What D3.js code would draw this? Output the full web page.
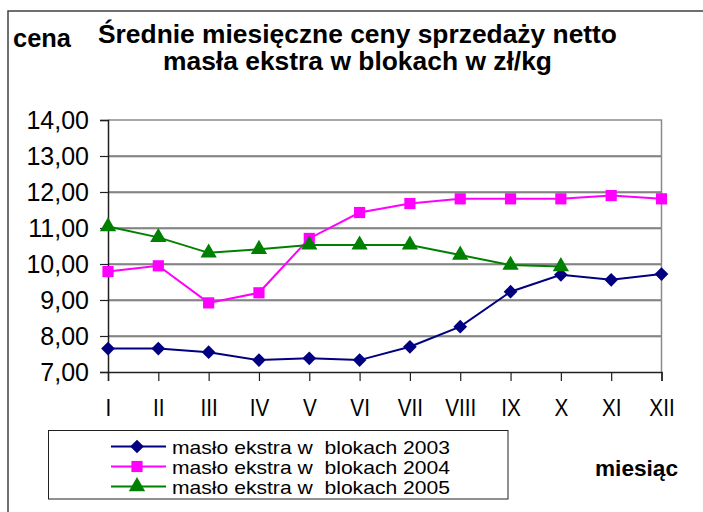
<!DOCTYPE html>
<html>
<head>
<meta charset="utf-8">
<script src="https://cdn.jsdelivr.net/npm/d3@7"></script>
<style>
  body { margin: 0; background: #fff; }
  svg { display: block; font-family: "Liberation Sans", Arial, sans-serif; }
</style>
</head>
<body>
<div id="chart"></div>
<script>
//////////////////////// Data ////////////////////////
var months = ["I", "II", "III", "IV", "V", "VI", "VII", "VIII", "IX", "X", "XI", "XII"];
var seriesNames = ["masło ekstra w  blokach 2003", "masło ekstra w  blokach 2004", "masło ekstra w  blokach 2005"];
var values2003 = [7.65, 7.65, 7.55, 7.33, 7.38, 7.33, 7.70, 8.26, 9.23, 9.70, 9.56, 9.72];
var values2004 = [9.79, 9.95, 8.92, 9.20, 10.71, 11.43, 11.68, 11.81, 11.81, 11.81, 11.90, 11.81];
var values2005 = [11.04, 10.74, 10.31, 10.41, 10.53, 10.53, 10.53, 10.25, 9.97, 9.93, null, null];
var yTicks = [7, 8, 9, 10, 11, 12, 13, 14];

var series = [
  { name: seriesNames[0], values: values2003, color: "#000080", marker: d3.symbolDiamond2, size: 120 },
  { name: seriesNames[1], values: values2004, color: "#ff00ff", marker: d3.symbolSquare, size: 125 },
  { name: seriesNames[2], values: values2005, color: "#008000", marker: d3.symbolTriangle, size: 115 }
];

//////////////////////// Set-Up ////////////////////////
var W = 703, H = 512;
var plot = { left: 108, right: 661.5, top: 120, bottom: 372 };

var svg = d3.select("#chart").append("svg")
  .attr("width", W)
  .attr("height", H);

var x = d3.scalePoint().domain(months).range([plot.left, plot.right]);
var y = d3.scaleLinear().domain([7, 14]).range([plot.bottom, plot.top]);

// outer frame (only left and top edges visible)
svg.append("rect")
  .attr("x", 8).attr("y", 11)
  .attr("width", W + 20).attr("height", H + 20)
  .attr("fill", "none")
  .attr("stroke", "#404040")
  .attr("stroke-width", 1.5);

// titles
var title = svg.append("g")
  .attr("font-weight", "bold")
  .attr("font-size", "26px")
  .attr("text-anchor", "middle");
title.append("text").attr("x", 357.5).attr("y", 42.5)
  .attr("textLength", 519).attr("lengthAdjust", "spacingAndGlyphs")
  .text("Średnie miesięczne ceny sprzedaży netto");
title.append("text").attr("x", 357.5).attr("y", 70)
  .attr("textLength", 389).attr("lengthAdjust", "spacingAndGlyphs")
  .text("masła ekstra w blokach w zł/kg");

svg.append("text")
  .attr("x", 13).attr("y", 46.5)
  .attr("font-weight", "bold").attr("font-size", "25px")
  .attr("textLength", 58).attr("lengthAdjust", "spacingAndGlyphs")
  .text("cena");

svg.append("text")
  .attr("x", 595).attr("y", 476)
  .attr("font-weight", "bold").attr("font-size", "22px")
  .attr("textLength", 83).attr("lengthAdjust", "spacingAndGlyphs")
  .text("miesiąc");

//////////////////////// Grid ////////////////////////
var inner = yTicks.filter(function(d) { return d > 7 && d < 14; });
var grid = svg.append("g");
grid.selectAll("line.shade")
  .data(inner)
  .enter().append("line")
  .attr("x1", plot.left).attr("x2", plot.right)
  .attr("y1", function(d) { return y(d) + 1; })
  .attr("y2", function(d) { return y(d) + 1; })
  .attr("stroke", "#b0b0b0");
grid.selectAll("line.main")
  .data(inner)
  .enter().append("line")
  .attr("x1", plot.left).attr("x2", plot.right)
  .attr("y1", function(d) { return y(d); })
  .attr("y2", function(d) { return y(d); })
  .attr("stroke", "#303030");

// top and right plot border
svg.append("path")
  .attr("d", "M" + plot.left + "," + plot.top + "H" + plot.right + "V" + plot.bottom)
  .attr("fill", "none")
  .attr("stroke", "#8a8a8a")
  .attr("stroke-width", 1.5);

//////////////////////// Axes ////////////////////////
var yAxis = svg.append("g")
  .attr("transform", "translate(" + plot.left + ",0)")
  .call(d3.axisLeft(y).tickValues(yTicks).tickSize(8).tickPadding(11)
    .tickFormat(function(d) { return d.toFixed(2).replace(".", ","); }));

var xAxis = svg.append("g")
  .attr("transform", "translate(0," + plot.bottom + ")")
  .call(d3.axisBottom(x).tickSize(9).tickPadding(19));

[yAxis, xAxis].forEach(function(a) {
  a.select(".domain").attr("stroke", "#202020").attr("stroke-width", 1.5);
  a.selectAll(".tick line").attr("stroke", "#202020").attr("stroke-width", 1.2);
  a.selectAll("text").attr("font-family", "'Liberation Sans', Arial, sans-serif").attr("fill", "#000");
});
yAxis.selectAll("text").attr("font-size", "25px");
// month labels look a bit condensed in the original
xAxis.selectAll("text")
  .attr("font-size", "23px")
  .each(function() {
    var len = this.getComputedTextLength();
    d3.select(this).attr("textLength", len * 0.9).attr("lengthAdjust", "spacingAndGlyphs");
  });

//////////////////////// Lines ////////////////////////
var line = d3.line()
  .defined(function(d) { return d != null; })
  .x(function(d, i) { return x(months[i]); })
  .y(function(d) { return y(d); });

series.forEach(function(s) {
  svg.append("path")
    .datum(s.values)
    .attr("fill", "none")
    .attr("stroke", s.color)
    .attr("stroke-width", 2)
    .attr("d", line);
});

series.forEach(function(s) {
  var sym = d3.symbol().type(s.marker).size(s.size);
  svg.selectAll(null)
    .data(s.values.map(function(v, i) { return { v: v, m: months[i] }; }).filter(function(d) { return d.v != null; }))
    .enter().append("path")
    .attr("transform", function(d) { return "translate(" + x(d.m) + "," + y(d.v) + ")"; })
    .attr("d", sym)
    .attr("fill", s.color);
});

//////////////////////// Legend ////////////////////////
var legend = svg.append("g");
legend.append("rect")
  .attr("x", 48.5).attr("y", 430.5)
  .attr("width", 459.5).attr("height", 68.5)
  .attr("fill", "#fff")
  .attr("stroke", "#202020");

var rowY = [446.5, 466.5, 486.5];
series.forEach(function(s, i) {
  var g = legend.append("g").attr("transform", "translate(0," + rowY[i] + ")");
  g.append("line")
    .attr("x1", 111).attr("x2", 166)
    .attr("stroke", s.color).attr("stroke-width", 2);
  g.append("path")
    .attr("transform", "translate(137,0)")
    .attr("d", d3.symbol().type(s.marker).size(s.size))
    .attr("fill", s.color);
  g.append("text")
    .attr("x", 172).attr("y", 7)
    .attr("font-size", "19px")
    .attr("textLength", 278).attr("lengthAdjust", "spacingAndGlyphs")
    .style("white-space", "pre")
    .text(s.name);
});
</script>
</body>
</html>
